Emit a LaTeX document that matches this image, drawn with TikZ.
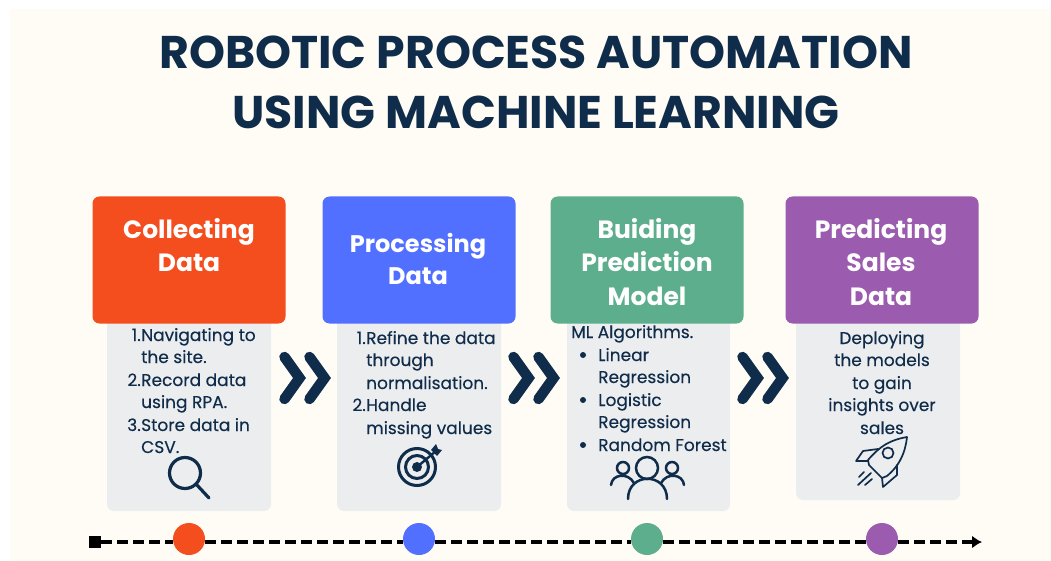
\documentclass[tikz,border=0pt]{standalone}
\usepackage{fontspec}
\setmainfont{Poppins}
\newfontfamily\bodyfont[FakeBold=0.25]{Poppins}
\usetikzlibrary{arrows.meta}

\definecolor{navy}{HTML}{0F2C4A}
\definecolor{cream}{HTML}{FFFCF5}
\definecolor{panelgray}{HTML}{ECEDEE}
\definecolor{orangered}{HTML}{F44E1E}
\definecolor{bluehead}{HTML}{5170FF}
\definecolor{greenhead}{HTML}{5DAE8C}
\definecolor{purplehead}{HTML}{9B5BAE}

\tikzset{
  headbox/.style={rounded corners=7pt,minimum width=193pt,minimum height=127pt,inner sep=0pt},
  headtext/.style={text=white,align=center,inner sep=0pt,font=\fontsize{25}{33.5}\selectfont\bfseries},
  panel/.style={fill=panelgray,rounded corners=7pt},
  bodytext/.style={text=navy,font=\fontsize{17}{22.5}\bodyfont,inner sep=0pt},
  dot/.style={circle,minimum size=32pt,inner sep=0pt},
  chevron/.style={draw=navy,line width=10.5pt,line cap=round,line join=miter},
  iconline/.style={draw=navy,line width=3pt,line cap=round}
}

\begin{document}
\begin{tikzpicture}[x=1pt,y=-1pt]
\useasboundingbox (0,0) rectangle (1051,561);
\fill[white] (0,0) rectangle (1051,561);

%background
\fill[cream] (10,9) rectangle (1051,561);

%title
\node[text=navy,font=\fontsize{45.8}{60}\selectfont\bfseries,align=center,inner sep=0pt] (title) at (536,82)
  {ROBOTIC PROCESS AUTOMATION\\USING MACHINE LEARNING};

%grey panels
\fill[panel] (107,300) rectangle (271,511);
\fill[panel] (337,300) rectangle (501,511);
\fill[panel] (567,300) rectangle (730,511);
\fill[panel] (796,300) rectangle (960,500);

%headers
\node[headbox,fill=orangered] (collect) at (189,260) {};
\node[headbox,fill=bluehead] (process) at (419,260) {};
\node[headbox,fill=greenhead] (model) at (647,260) {};
\node[headbox,fill=purplehead] (predict) at (882,260) {};

\node[headtext] (collectlabel) at (189,245) {Collecting\\Data};
\node[headtext,font=\fontsize{24}{32}\selectfont\bfseries] (processlabel) at (418,259) {Processing\\Data};
\node[headtext] (modellabel) at (647,262) {Buiding\\Prediction\\Model};
\node[headtext] (predictlabel) at (881,262) {Predicting\\Sales\\Data};

%first panel text
\foreach \y/\n in {335/1.,380/2.,425/3.}
  \node[bodytext,anchor=base east] at (141,\y+6) {\n};
\foreach \y/\t in {335/Navigating to,357/the site.,380/Record data,402/using RPA.,425/Store data in,447/CSV.}
  \node[bodytext,anchor=base west] at (141,\y+6) {\t};

%second panel text
\foreach \y/\n in {338/1.,405/2.}
  \node[bodytext,anchor=base east] at (366,\y+6) {\n};
\foreach \y/\t in {338/Refine the data,360/through,383/normalisation.,405/Handle,428/missing values}
  \node[bodytext,anchor=base west] at (366,\y+6) {\t};

%third panel text
\node[bodytext,anchor=base west] at (571,338) {ML Algorithms.};
\foreach \y/\t in {355/Linear,377/Regression,400/Logistic,422/Regression,445/Random Forest}
  \node[bodytext,anchor=base west] at (598,\y+6) {\t};
\foreach \y in {355,400,445}
  \fill[navy] (583,\y) circle (3pt);

%fourth panel text
\foreach \y/\t in {338/Deploying,360/the models,383/to gain,405/insights over,428/sales}
  \node[bodytext,anchor=base] at (882,\y+6) {\t};

%chevrons
\foreach \x in {284.5,513.5,742.5}{
  \draw[chevron] (\x,357) -- (\x+15,378) -- (\x,399);
  \draw[chevron] (\x+25,357) -- (\x+40,378) -- (\x+25,399);
}

%magnifier
\draw[iconline,line width=3.2pt] (185,473) circle (15.5pt);
\draw[iconline,line width=3.2pt] (196,484) -- (209,498);

%target
\draw[iconline] (417,467) circle (18.5pt);
\draw[iconline] (417,467) circle (11.5pt);
\fill[navy] (417,467) circle (5pt);
\draw[iconline,line width=2.4pt] (417,467) -- (436,451);
\fill[navy] (431,450) -- (436,444) -- (438,449) -- (442,450) -- (437,456) -- cycle;

%people
\begin{scope}[iconline/.append style={line width=2.5pt}]
\draw[iconline] (647,468) circle (11pt);
\draw[iconline] (623,468) circle (6pt);
\draw[iconline] (672,468) circle (6pt);
\draw[iconline] (628,499) .. controls (628,472) and (667,472) .. (667,499);
\draw[iconline] (611,485) .. controls (612,474) and (628,472) .. (634,483);
\draw[iconline] (684,485) .. controls (683,474) and (667,472) .. (661,483);
\end{scope}

%rocket
\begin{scope}[iconline/.append style={line width=1.7pt}]
\draw[iconline,line join=round] (907,437) .. controls (890,440) and (880,446) .. (868,460)
  -- (869,465) -- (882,478) -- (887,476) .. controls (898,467) and (905,455) .. (907,437);
\draw[iconline] (888,453) circle (5.5pt);
\draw[iconline,line join=round] (878,449) -- (863,451) -- (856,461) -- (868,461);
\draw[iconline,line join=round] (897,465) -- (897,475) -- (883,487) -- (882,478);
\draw[iconline] (859,477) -- (864,472);
\draw[iconline] (858,485) -- (871,473);
\draw[iconline] (865,485) -- (872,479);
\end{scope}

%timeline
\node[fill=black,minimum size=12pt,inner sep=0pt] (start) at (95,542) {};
\node[dot,fill=orangered] (dotA) at (189,539) {};
\node[dot,fill=bluehead] (dotB) at (419,539) {};
\node[dot,fill=greenhead] (dotC) at (647,539) {};
\node[dot,fill=purplehead] (dotD) at (882,539) {};
\coordinate (finish) at (982,542);

\begin{scope}[black,line width=3.3pt,dash pattern=on 11pt off 5pt]
\draw (start.east) -- (start.east -| dotA.west);
\draw (start.east -| dotA.east) -- (start.east -| dotB.west);
\draw (start.east -| dotB.east) -- (start.east -| dotC.west);
\draw (start.east -| dotC.east) -- (start.east -| dotD.west);
\draw[-{Latex[length=10pt,width=13pt]}] (start.east -| dotD.east) -- (finish);
\end{scope}

\end{tikzpicture}
\end{document}
